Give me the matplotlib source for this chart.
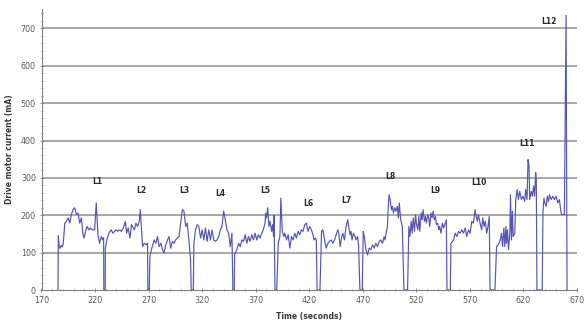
import matplotlib
matplotlib.use("Agg")
import matplotlib.pyplot as plt
from matplotlib.ticker import MultipleLocator

# ---- data ----
time_s = [
    185.4, 185.7, 186.6, 187.5, 188.4, 189.3, 190.2, 191.0, 191.8, 193.3, 194.9, 196.4, 197.9, 199.5,
    201.0, 202.6, 204.1, 205.7, 207.2, 208.8, 209.7, 211.2, 212.5, 214.3, 215.6, 217.5, 219.6, 221.1,
    222.7, 224.2, 225.8, 227.3, 228.0, 228.2, 229.5, 229.6, 231.0, 232.9, 235.0, 236.6, 238.2, 239.7,
    241.2, 242.8, 244.4, 246.5, 248.3, 249.5, 251.0, 252.6, 254.1, 256.7, 258.2, 259.7, 261.3, 262.2,
    264.4, 265.9, 267.5, 269.0, 269.3, 270.6, 271.2, 273.0, 275.2, 276.7, 278.3, 279.8, 281.4, 282.9,
    284.5, 286.0, 287.6, 289.1, 290.6, 292.2, 293.7, 295.3, 296.8, 298.4, 299.9, 301.5, 303.0, 304.6,
    306.1, 307.6, 309.2, 309.8, 311.7, 312.3, 313.8, 315.4, 316.9, 318.5, 320.0, 321.5, 323.1, 324.6,
    326.2, 327.7, 329.3, 330.8, 332.4, 333.9, 335.4, 337.0, 338.5, 340.1, 341.6, 343.2, 344.7, 346.3,
    347.8, 348.7, 350.0, 350.3, 352.4, 354.0, 355.5, 357.1, 358.6, 360.2, 361.7, 363.2, 364.8, 366.3,
    367.9, 369.4, 371.0, 372.5, 374.1, 375.6, 377.1, 378.7, 379.3, 380.2, 381.2, 382.4, 383.3, 384.9,
    385.8, 386.7, 387.2, 388.0, 389.6, 391.1, 392.6, 393.5, 394.8, 396.3, 397.2, 398.8, 400.3, 401.9,
    403.4, 405.0, 406.5, 408.0, 409.6, 411.1, 412.7, 414.2, 415.8, 417.3, 418.9, 420.4, 422.0, 423.5,
    424.4, 425.7, 426.6, 427.3, 430.0, 431.5, 432.7, 434.3, 435.8, 437.4, 438.9, 440.5, 442.0, 443.6,
    445.1, 446.6, 447.6, 448.8, 450.4, 451.3, 452.8, 454.4, 455.9, 456.8, 458.1, 459.0, 459.9, 461.2,
    462.7, 463.6, 465.2, 466.1, 467.3, 469.5, 470.4, 471.4, 472.9, 474.5, 476.0, 477.5, 479.1, 480.6,
    482.2, 483.7, 485.3, 486.8, 488.4, 489.9, 490.8, 492.1, 493.0, 493.6, 494.5, 495.5, 496.7, 497.6,
    498.6, 499.8, 501.0, 502.3, 503.2, 504.1, 505.4, 506.9, 508.4, 511.8, 513.0, 514.0, 515.2, 516.1,
    517.1, 518.3, 519.2, 520.2, 521.4, 522.3, 523.2, 524.5, 525.4, 526.3, 527.6, 528.5, 529.4, 530.7,
    531.6, 532.5, 533.7, 534.7, 535.6, 536.8, 537.8, 538.7, 539.9, 540.9, 541.8, 543.0, 544.3, 545.5,
    547.0, 548.0, 548.6, 551.7, 552.3, 554.8, 556.3, 557.9, 559.4, 560.9, 562.5, 564.0, 565.6, 567.1,
    568.7, 570.2, 571.8, 573.3, 574.8, 575.8, 577.0, 577.9, 579.5, 581.0, 582.0, 583.2, 584.4, 585.7,
    586.9, 588.1, 588.8, 593.4, 594.9, 596.4, 598.0, 599.5, 600.5, 601.7, 602.6, 603.6, 604.2, 605.1,
    606.0, 607.3, 607.9, 608.8, 609.7, 610.4, 611.9, 612.8, 614.1, 615.3, 616.5, 618.1, 619.6, 621.2,
    622.1, 623.3, 624.3, 625.2, 625.8, 627.3, 628.3, 629.5, 630.4, 631.4, 632.0, 632.6, 637.5, 638.2,
    639.1, 640.0, 641.3, 642.2, 643.4, 644.3, 645.9, 647.4, 649.0, 650.5, 652.1, 653.6, 654.5, 655.5,
    658.2, 659.8, 660.7,
]
current_ma = [
    0, 145, 113, 112, 120, 115, 122, 150, 179, 184, 193, 179, 202, 215,
    220, 202, 206, 179, 193, 148, 139, 157, 170, 161, 166, 161, 161, 233,
    148, 125, 143, 134, 140, 0, 0, 112, 134, 152, 161, 152, 157, 161,
    157, 161, 157, 166, 184, 152, 166, 139, 175, 161, 179, 170, 184, 215,
    116, 125, 121, 125, 0, 0, 90, 112, 134, 125, 143, 116, 125, 108,
    99, 121, 134, 143, 112, 130, 125, 134, 139, 143, 179, 215, 211, 170,
    179, 134, 81, 0, 0, 125, 161, 175, 170, 139, 161, 134, 166, 130,
    161, 134, 161, 134, 130, 134, 143, 161, 170, 211, 188, 161, 152, 116,
    152, 0, 0, 94, 108, 125, 116, 134, 130, 148, 125, 143, 130, 148,
    134, 152, 134, 148, 139, 152, 161, 179, 206, 193, 220, 170, 184, 157,
    175, 143, 200, 0, 0, 125, 143, 246, 157, 143, 152, 134, 148, 112,
    143, 134, 152, 139, 157, 148, 161, 157, 175, 179, 157, 170, 161, 148,
    134, 139, 134, 0, 0, 157, 161, 134, 112, 125, 130, 134, 125, 134,
    148, 161, 152, 116, 143, 152, 134, 170, 188, 170, 148, 157, 134, 152,
    143, 134, 143, 116, 0, 0, 157, 143, 108, 94, 112, 108, 121, 112,
    125, 116, 130, 134, 125, 143, 134, 157, 170, 215, 255, 242, 215, 224,
    206, 220, 211, 224, 193, 233, 188, 170, 0, 0, 170, 143, 184, 152,
    193, 157, 202, 175, 161, 197, 157, 206, 188, 215, 184, 197, 179, 202,
    193, 170, 206, 193, 211, 188, 197, 175, 179, 161, 170, 152, 179, 166,
    179, 188, 0, 0, 125, 134, 152, 143, 157, 152, 161, 152, 166, 143,
    161, 152, 184, 179, 215, 197, 184, 202, 179, 161, 193, 170, 184, 152,
    170, 197, 0, 0, 116, 121, 130, 152, 116, 166, 116, 170, 125, 161,
    108, 152, 255, 134, 211, 143, 152, 242, 269, 242, 264, 242, 251, 237,
    269, 242, 349, 332, 242, 264, 251, 278, 251, 314, 296, 0, 0, 206,
    246, 233, 224, 251, 237, 255, 242, 251, 242, 251, 233, 242, 220, 202,
    202, 735, 0,
]

lap_labels = ["L1", "L2", "L3", "L4", "L5", "L6", "L7", "L8", "L9", "L10", "L11", "L12"]
lap_label_t = [222.4, 263.1, 303.0, 337.3, 379.0, 418.8, 455.0, 495.8, 537.5, 578.3, 623.6, 644.0]
lap_label_v = [290, 266, 266, 258, 266, 231, 239, 304, 266, 288, 392, 718]

x_ticks = [170, 220, 270, 320, 370, 420, 470, 520, 570, 620, 670]
y_ticks = [0, 100, 200, 300, 400, 500, 600, 700]

# ---- figure ----
W, H = 587, 322
fig = plt.figure(figsize=(W / 100, H / 100), dpi=100)
ax = fig.add_axes([41.5 / W, 1 - 290 / H, (577 - 41.5) / W, (290 - 9) / H])

line_color = "#5555b4"
grid_color = "#9a9a9a"
text_color = "#3a3a3a"

for v in y_ticks[1:]:
    ax.axhline(v, color=grid_color, lw=1.2, zorder=1)

ax.plot(time_s, current_ma, color=line_color, lw=0.85, zorder=3)

for lab, t, v in zip(lap_labels, lap_label_t, lap_label_v):
    ax.text(t, v, lab, ha="center", va="center", fontsize=5.5,
            fontweight="bold", color="#2a2a2a", zorder=4)

ax.set_xlim(170, 670)
ax.set_ylim(0, 752)
ax.set_xticks(x_ticks)
ax.set_yticks(y_ticks)
ax.xaxis.set_minor_locator(MultipleLocator(10))
ax.yaxis.set_minor_locator(MultipleLocator(20))

for s in ["top", "right"]:
    ax.spines[s].set_visible(False)
for s in ["left", "bottom"]:
    ax.spines[s].set_color("#808080")
    ax.spines[s].set_linewidth(0.8)

ax.tick_params(axis="both", which="major", labelsize=5.8, labelcolor="#5a5a5a",
               color="#808080", length=3, width=0.6, direction="inout", pad=2.5)
ax.tick_params(axis="both", which="minor", color="#808080", length=2, width=0.5,
               direction="inout")

ax.set_xlabel("Time (seconds)", fontsize=5.5, fontweight="bold", color=text_color, labelpad=5)
ax.set_ylabel("Drive motor current (mA)", fontsize=5.5, fontweight="bold", color=text_color, labelpad=5)

fig.savefig("out.png", dpi=100, facecolor="white")
